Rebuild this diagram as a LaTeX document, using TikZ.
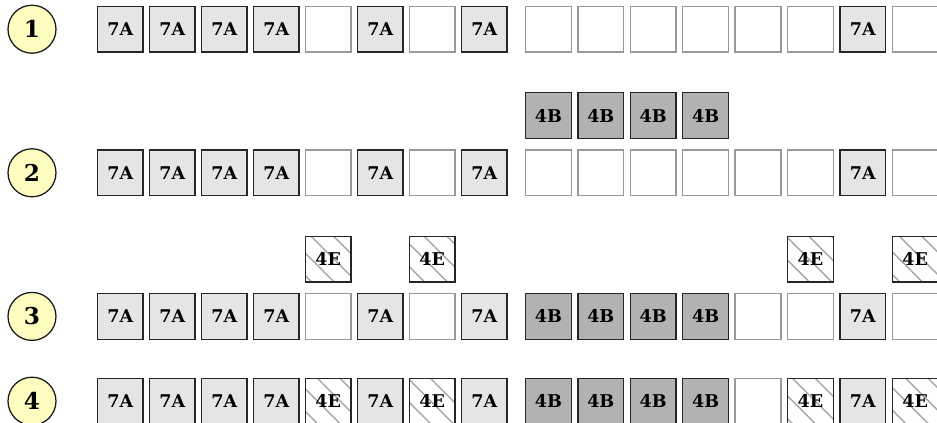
\documentclass[tikz,border=0pt]{standalone}
\usepackage{fontspec}
\setmainfont{DejaVu Serif}
\usepackage{tikz}
\usetikzlibrary{patterns.meta}

\tikzset{
  seat/.style={draw=black!40, line width=0.9pt, minimum size=1.145cm, inner sep=0pt, font=\bfseries\fontsize{12.5}{14}\selectfont},
  seat7A/.style={seat, draw=black!85, fill=black!10},
  seat4B/.style={seat, draw=black!85, fill=black!30},
  seat4E/.style={seat, draw=black!85, pattern={Lines[angle=-45, distance=0.4cm, line width=1pt]}, pattern color=black!35},
  stage/.style={circle, draw=black!90, line width=0.9pt, fill=yellow!25, minimum size=1.2cm, inner sep=0pt, font=\bfseries\fontsize{16.5}{19}\selectfont}
}

\begin{document}
\begin{tikzpicture}
\useasboundingbox (0,0) rectangle (23.425,-10.575);
\clip (0,0) rectangle (23.425,-10.575);
% stage numbers
\foreach \r/\y in {1/-0.73, 2/-4.32, 3/-7.91, 4/-10.03}
  \node[stage] (stage\r) at (0.8,\y) {\r};
% the seat rows, left block and right block
\foreach \r/\y/\L/\R in {
    1/-0.73/{7A,7A,7A,7A,,7A,,7A}/{,,,,,,7A,},
    2/-4.32/{7A,7A,7A,7A,,7A,,7A}/{,,,,,,7A,},
    3/-7.91/{7A,7A,7A,7A,,7A,,7A}/{4B,4B,4B,4B,,,7A,},
    4/-10.03/{7A,7A,7A,7A,4E,7A,4E,7A}/{4B,4B,4B,4B,,4E,7A,4E}}{
  \foreach \t [count=\i from 0] in \L
    \node[seat\t] (row\r-L\i) at (3.005+1.3*\i,\y) {\t};
  \foreach \t [count=\i from 0] in \R
    \node[seat\t] (row\r-R\i) at (13.71+1.31*\i,\y) {\t};
}
% groups waiting above a row
\foreach \i in {0,...,3}
  \node[seat4B] (wait2-R\i) at (13.71+1.31*\i,-2.89) {4B};
\foreach \i in {4,6}
  \node[seat4E] (wait3-L\i) at (3.005+1.3*\i,-6.48) {4E};
\foreach \i in {5,7}
  \node[seat4E] (wait3-R\i) at (13.71+1.31*\i,-6.48) {4E};
\end{tikzpicture}
\end{document}
